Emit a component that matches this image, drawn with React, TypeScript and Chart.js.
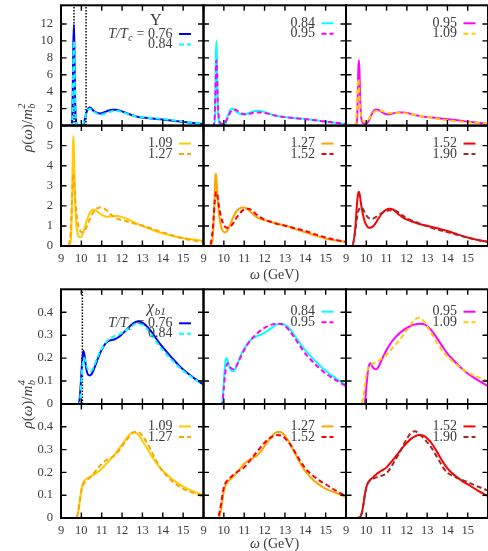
import React, { useEffect, useRef } from 'react';
import { Chart, registerables } from 'chart.js';

Chart.register(...registerables);

const PAGE_W = 488;
const PAGE_H = 551;
const SERIF = '"Liberation Serif", "Times New Roman", serif';
const TEXT = '#3c3c3c';
const Y_BOX = 40;
const X_BOX = 26;
const TICK = 5.5;

// ---------- data ----------
const xTicks = [9, 10, 11, 12, 13, 14, 15];
const upsTopTicks = [0, 2, 4, 6, 8, 10, 12];
const upsBottomTicks = [0, 1, 2, 3, 4, 5];
const chiTicks = [0, 0.1, 0.2, 0.3, 0.4];
const upsMarkers = [9.64, 10.23];
const chiMarkers = [10.05];

const tempLabels = ['0.76', '0.84', '0.95', '1.09', '1.27', '1.52', '1.90'];
const tempColors = ['#0000f0', '#00ffff', '#ff00ff', '#ffcc00', '#ffa500', '#ff0000', '#a52a2a'];

const omegaUps = [9.0, 9.3, 9.45, 9.5, 9.55, 9.58, 9.61, 9.64, 9.67, 9.7, 9.75, 9.8, 9.85, 9.9, 9.95, 10.0, 10.05, 10.1, 10.15, 10.2, 10.3, 10.4, 10.5, 10.6, 10.7, 10.8, 10.9, 11.0, 11.1, 11.2, 11.3, 11.4, 11.5, 11.6, 11.7, 11.8, 11.9, 12.0, 12.25, 12.5, 12.75, 13.0, 13.5, 14.0, 14.5, 15.0, 15.5, 16.0];

const ups076 = [0, 0, 0, 0, 0.8, 4.5, 10, 11.9, 7, 2.5, 0.3, 0.02, 0, 0, 0, 0, 0, 0.1, 0.5, 1.1, 1.85, 2.15, 2.0, 1.75, 1.58, 1.48, 1.44, 1.46, 1.55, 1.65, 1.75, 1.82, 1.86, 1.87, 1.86, 1.82, 1.76, 1.68, 1.45, 1.22, 1.05, 0.95, 0.83, 0.72, 0.58, 0.45, 0.32, 0.18];
const ups084 = [0, 0, 0, 0, 0.6, 3.5, 8.5, 10.0, 6.5, 2.5, 0.5, 0.1, 0.04, 0.03, 0.03, 0.05, 0.1, 0.3, 0.7, 1.15, 1.8, 2.0, 1.9, 1.68, 1.5, 1.38, 1.31, 1.3, 1.36, 1.46, 1.56, 1.64, 1.7, 1.74, 1.75, 1.73, 1.68, 1.6, 1.4, 1.2, 1.07, 1.0, 0.88, 0.78, 0.63, 0.47, 0.33, 0.18];
const ups095 = [0, 0, 0, 0.1, 1.0, 3.5, 6.8, 7.7, 5.8, 3.0, 1.0, 0.45, 0.28, 0.2, 0.18, 0.2, 0.3, 0.5, 0.75, 1.0, 1.5, 1.8, 1.9, 1.85, 1.7, 1.55, 1.42, 1.35, 1.33, 1.36, 1.42, 1.48, 1.52, 1.55, 1.56, 1.56, 1.53, 1.49, 1.35, 1.2, 1.08, 1.0, 0.88, 0.76, 0.62, 0.47, 0.34, 0.2];
const ups109 = [0, 0, 0.1, 0.6, 2.5, 4.8, 5.5, 4.6, 3.0, 2.0, 1.1, 0.7, 0.52, 0.45, 0.43, 0.45, 0.55, 0.7, 0.88, 1.05, 1.38, 1.62, 1.77, 1.82, 1.78, 1.7, 1.62, 1.55, 1.5, 1.47, 1.46, 1.47, 1.48, 1.49, 1.49, 1.49, 1.47, 1.44, 1.35, 1.23, 1.1, 1.0, 0.8, 0.63, 0.5, 0.4, 0.32, 0.26];
const ups127 = [0, 0, 0.4, 1.2, 2.6, 3.4, 3.6, 3.3, 2.8, 2.3, 1.7, 1.3, 1.02, 0.85, 0.75, 0.7, 0.68, 0.69, 0.74, 0.82, 1.05, 1.3, 1.52, 1.7, 1.82, 1.89, 1.92, 1.92, 1.88, 1.8, 1.72, 1.62, 1.53, 1.45, 1.39, 1.35, 1.31, 1.29, 1.22, 1.15, 1.08, 1.02, 0.85, 0.68, 0.52, 0.37, 0.28, 0.2];
const ups152 = [0, 0, 0.8, 1.5, 2.2, 2.5, 2.65, 2.7, 2.6, 2.4, 2.05, 1.75, 1.5, 1.3, 1.15, 1.05, 0.97, 0.93, 0.91, 0.91, 0.95, 1.05, 1.2, 1.37, 1.52, 1.65, 1.75, 1.82, 1.86, 1.86, 1.82, 1.75, 1.66, 1.57, 1.5, 1.43, 1.37, 1.32, 1.22, 1.13, 1.06, 1.01, 0.88, 0.75, 0.58, 0.42, 0.3, 0.21];
const ups190 = [0, 0, 0.7, 1.1, 1.45, 1.62, 1.75, 1.83, 1.88, 1.91, 1.92, 1.9, 1.82, 1.72, 1.62, 1.53, 1.46, 1.41, 1.38, 1.36, 1.36, 1.4, 1.46, 1.53, 1.6, 1.66, 1.71, 1.75, 1.77, 1.78, 1.78, 1.77, 1.73, 1.67, 1.6, 1.52, 1.44, 1.38, 1.27, 1.17, 1.07, 0.98, 0.82, 0.69, 0.55, 0.42, 0.3, 0.2];

const omegaChi = [9.0, 9.5, 9.7, 9.8, 9.85, 9.9, 9.95, 10.0, 10.05, 10.1, 10.15, 10.2, 10.25, 10.3, 10.4, 10.5, 10.6, 10.7, 10.8, 10.9, 11.0, 11.2, 11.4, 11.6, 11.8, 12.0, 12.2, 12.4, 12.6, 12.8, 13.0, 13.2, 13.4, 13.6, 13.8, 14.0, 14.25, 14.5, 14.75, 15.0, 15.5, 16.0];

const chi076 = [0, 0, 0, 0, 0, 0.01, 0.06, 0.13, 0.2, 0.232, 0.215, 0.18, 0.15, 0.132, 0.124, 0.13, 0.148, 0.17, 0.195, 0.218, 0.237, 0.265, 0.277, 0.281, 0.29, 0.305, 0.322, 0.34, 0.355, 0.36, 0.355, 0.34, 0.32, 0.295, 0.27, 0.248, 0.222, 0.196, 0.172, 0.15, 0.115, 0.084];
const chi084 = [0, 0, 0, 0, 0, 0, 0.03, 0.1, 0.16, 0.195, 0.2, 0.185, 0.168, 0.155, 0.143, 0.145, 0.16, 0.182, 0.205, 0.225, 0.24, 0.268, 0.285, 0.295, 0.302, 0.31, 0.322, 0.335, 0.347, 0.35, 0.345, 0.33, 0.308, 0.282, 0.257, 0.235, 0.21, 0.187, 0.165, 0.145, 0.112, 0.083];
const chi095 = [0, 0, 0, 0, 0, 0, 0.02, 0.07, 0.12, 0.155, 0.172, 0.178, 0.172, 0.163, 0.153, 0.152, 0.162, 0.18, 0.2, 0.218, 0.235, 0.265, 0.287, 0.305, 0.32, 0.332, 0.341, 0.347, 0.35, 0.349, 0.34, 0.322, 0.298, 0.272, 0.245, 0.22, 0.195, 0.172, 0.152, 0.133, 0.104, 0.078];
const chi109 = [0, 0, 0, 0.01, 0.03, 0.06, 0.095, 0.125, 0.145, 0.157, 0.164, 0.168, 0.171, 0.174, 0.179, 0.184, 0.189, 0.195, 0.201, 0.208, 0.216, 0.235, 0.255, 0.275, 0.298, 0.322, 0.347, 0.368, 0.376, 0.365, 0.338, 0.31, 0.28, 0.252, 0.228, 0.207, 0.186, 0.168, 0.152, 0.138, 0.117, 0.1];
const chi127 = [0, 0, 0, 0.01, 0.03, 0.06, 0.09, 0.118, 0.135, 0.147, 0.155, 0.161, 0.165, 0.168, 0.176, 0.185, 0.195, 0.206, 0.217, 0.228, 0.238, 0.252, 0.262, 0.272, 0.29, 0.315, 0.34, 0.362, 0.377, 0.377, 0.36, 0.333, 0.3, 0.265, 0.232, 0.205, 0.18, 0.158, 0.142, 0.128, 0.11, 0.092];
const chi152 = [0, 0, 0.005, 0.03, 0.055, 0.085, 0.112, 0.135, 0.148, 0.157, 0.163, 0.168, 0.172, 0.176, 0.184, 0.192, 0.199, 0.205, 0.21, 0.215, 0.222, 0.243, 0.265, 0.287, 0.31, 0.33, 0.347, 0.358, 0.364, 0.362, 0.35, 0.33, 0.303, 0.272, 0.243, 0.218, 0.195, 0.177, 0.161, 0.148, 0.12, 0.095];
const chi190 = [0, 0, 0.005, 0.03, 0.055, 0.085, 0.112, 0.133, 0.147, 0.156, 0.162, 0.166, 0.169, 0.171, 0.175, 0.178, 0.181, 0.184, 0.187, 0.19, 0.196, 0.22, 0.25, 0.28, 0.315, 0.348, 0.372, 0.38, 0.37, 0.352, 0.332, 0.31, 0.28, 0.25, 0.22, 0.198, 0.185, 0.175, 0.166, 0.157, 0.138, 0.12];

const upsSeries = [ups076, ups084, ups095, ups109, ups127, ups152, ups190];
const chiSeries = [chi076, chi084, chi095, chi109, chi127, chi152, chi190];

// ---------- text helpers ----------
type Seg = { t?: string; it?: boolean; sub?: string; sup?: string };

function fontOf(size: number, italic: boolean) {
  return `${italic ? 'italic ' : ''}${size}px ${SERIF}`;
}

function segWidth(ctx: CanvasRenderingContext2D, s: Seg, size: number) {
  if (s.sub !== undefined || s.sup !== undefined) {
    ctx.font = fontOf(size * 0.7, !!s.it);
    const a = s.sub ? ctx.measureText(s.sub).width : 0;
    const b = s.sup ? ctx.measureText(s.sup).width : 0;
    return Math.max(a, b) + 1;
  }
  ctx.font = fontOf(size, !!s.it);
  return ctx.measureText(s.t || '').width;
}

function drawRich(ctx: CanvasRenderingContext2D, segs: Seg[], x: number, y: number, size: number, align: 'left' | 'center' | 'right') {
  const widths = segs.map((s) => segWidth(ctx, s, size));
  const total = widths.reduce((a, b) => a + b, 0);
  let cx = align === 'left' ? x : align === 'right' ? x - total : x - total / 2;
  ctx.fillStyle = TEXT;
  ctx.textBaseline = 'middle';
  ctx.textAlign = 'left';
  segs.forEach((s, i) => {
    if (s.sub !== undefined || s.sup !== undefined) {
      ctx.font = fontOf(size * 0.7, !!s.it);
      if (s.sub) ctx.fillText(s.sub, cx + 0.5, y + size * 0.3);
      if (s.sup) ctx.fillText(s.sup, cx + 0.5, y - size * 0.4);
    } else {
      ctx.font = fontOf(size, !!s.it);
      ctx.fillText(s.t || '', cx, y);
    }
    cx += widths[i];
  });
}

// ---------- panel specs ----------
const COLS = [61, 203.5, 346, 488];

interface Group {
  xs: number[];
  series: number[][];
  rows: number[][];
  ymax: number[];
  yticks: number[][];
  markers: number[];
  legendOffset: number;
  firstLegendOffset: number;
  header: Seg[];
  headerPos: number[];
  yTitle: Seg[];
  yTitlePos: number[];
  xTitleY: number;
}

interface PanelSpec {
  key: string;
  L: number; T: number; R: number; B: number;
  xs: number[];
  solid: number[]; dashed: number[];
  cSolid: string; cDashed: string;
  lSolid: Seg[]; lDashed: Seg[];
  ymax: number; yticks: number[];
  showY: boolean; showX: boolean;
  markers: number[];
  legendY: number;
  group: Group;
  first: boolean;
}

const upsGroup: Group = {
  xs: omegaUps,
  series: upsSeries,
  rows: [[5.3, 125.6], [125.6, 246]],
  ymax: [14.2, 6],
  yticks: [upsTopTicks, upsBottomTicks],
  markers: upsMarkers,
  legendOffset: 18,
  firstLegendOffset: 28.7,
  header: [{ t: 'Υ' }],
  headerPos: [155.8, 20.5],
  yTitle: [{ t: 'ρ', it: true }, { t: '(' }, { t: 'ω', it: true }, { t: ')/' }, { t: 'm', it: true }, { sub: 'b', sup: '2', it: true }],
  yTitlePos: [28, 127.5],
  xTitleY: 275,
};

const chiGroup: Group = {
  xs: omegaChi,
  series: chiSeries,
  rows: [[289.3, 404], [404, 518]],
  ymax: [0.5, 0.5],
  yticks: [chiTicks, chiTicks],
  markers: chiMarkers,
  legendOffset: 22.4,
  firstLegendOffset: 34,
  header: [{ t: 'χ', it: true }, { sub: 'b1', it: true }],
  headerPos: [156.7, 307.5],
  yTitle: [{ t: 'ρ', it: true }, { t: '(' }, { t: 'ω', it: true }, { t: ')/' }, { t: 'm', it: true }, { sub: 'b', sup: '4', it: true }],
  yTitlePos: [28, 404],
  xTitleY: 544,
};

function buildPanels(name: string, g: Group): PanelSpec[] {
  const out: PanelSpec[] = [];
  for (let k = 0; k < 6; k++) {
    const col = k % 3;
    const row = Math.floor(k / 3);
    const lSolid: Seg[] = k === 0
      ? [{ t: 'T/T', it: true }, { sub: 'c', it: true }, { t: ' = ' + tempLabels[k] }]
      : [{ t: tempLabels[k] }];
    out.push({
      key: name + k,
      L: COLS[col], R: COLS[col + 1], T: g.rows[row][0], B: g.rows[row][1],
      xs: g.xs,
      solid: g.series[k], dashed: g.series[k + 1],
      cSolid: tempColors[k], cDashed: tempColors[k + 1],
      lSolid, lDashed: [{ t: tempLabels[k + 1] }],
      ymax: g.ymax[row], yticks: g.yticks[row],
      showY: col === 0, showX: row === 1,
      markers: k === 0 ? g.markers : [],
      legendY: g.rows[row][0] + (k === 0 ? g.firstLegendOffset : g.legendOffset),
      group: g,
      first: k === 0,
    });
  }
  return out;
}

const panels: PanelSpec[] = [...buildPanels('ups', upsGroup), ...buildPanels('chi', chiGroup)];

function framePlugin(spec: PanelSpec) {
  return {
    id: 'frame_' + spec.key,
    afterDraw(chart: any) {
      const ctx: CanvasRenderingContext2D = chart.ctx;
      const xs = chart.scales.x;
      const ys = chart.scales.y;
      const { left, right, top, bottom } = chart.chartArea;
      ctx.save();
      ctx.setLineDash([]);
      ctx.strokeStyle = '#000';
      ctx.lineWidth = 1.4;
      ctx.beginPath();
      xTicks.forEach((v) => {
        const px = xs.getPixelForValue(v);
        ctx.moveTo(px, bottom);
        ctx.lineTo(px, bottom - TICK);
        ctx.moveTo(px, top);
        ctx.lineTo(px, top + TICK);
      });
      spec.yticks.forEach((v) => {
        const py = ys.getPixelForValue(v);
        ctx.moveTo(left, py);
        ctx.lineTo(left + TICK, py);
        ctx.moveTo(right, py);
        ctx.lineTo(right - TICK, py);
      });
      ctx.stroke();
      ctx.lineWidth = 2;
      ctx.strokeRect(left, top, right - left, bottom - top);

      // legend
      const rows = [
        { segs: spec.lSolid, color: spec.cSolid, dash: [] as number[] },
        { segs: spec.lDashed, color: spec.cDashed, dash: [5, 3] },
      ];
      rows.forEach((r, i) => {
        const y = spec.legendY + i * 10.5;
        drawRich(ctx, r.segs, right - 31, y, 14, 'right');
        ctx.strokeStyle = r.color;
        ctx.lineWidth = 2;
        ctx.setLineDash(r.dash);
        ctx.beginPath();
        ctx.moveTo(right - 24.5, y);
        ctx.lineTo(right - 12.5, y);
        ctx.stroke();
      });
      ctx.setLineDash([]);

      if (spec.first) {
        const g = spec.group;
        drawRich(ctx, g.header, g.headerPos[0], g.headerPos[1], 16, 'center');
        ctx.save();
        ctx.translate(g.yTitlePos[0], g.yTitlePos[1]);
        ctx.rotate(-Math.PI / 2);
        drawRich(ctx, g.yTitle, 0, 0, 15, 'center');
        ctx.restore();
        drawRich(ctx, [{ t: 'ω', it: true }, { t: ' (GeV)' }], 274.5, g.xTitleY, 14, 'center');
      }
      ctx.restore();
    },
  };
}

function makeConfig(spec: PanelSpec): any {
  const datasets: any[] = [
    {
      data: spec.xs.map((x, i) => ({ x, y: spec.dashed[i] })),
      borderColor: spec.cDashed,
      borderWidth: 2,
      borderDash: [5, 3],
      pointRadius: 0,
      fill: false,
      cubicInterpolationMode: 'monotone',
    },
    {
      data: spec.xs.map((x, i) => ({ x, y: spec.solid[i] })),
      borderColor: spec.cSolid,
      borderWidth: 2,
      pointRadius: 0,
      fill: false,
      cubicInterpolationMode: 'monotone',
    },
    ...spec.markers.map((m) => ({
      data: [{ x: m, y: 0 }, { x: m, y: spec.ymax }],
      borderColor: '#000',
      borderWidth: 1.5,
      borderDash: [1.5, 1.5],
      pointRadius: 0,
      fill: false,
    })),
  ];
  const tickFont = { family: SERIF, size: 12.5 };
  return {
    type: 'line',
    data: { datasets },
    options: {
      animation: false,
      responsive: false,
      maintainAspectRatio: false,
      events: [],
      layout: {
        padding: {
          left: spec.L - Y_BOX,
          top: spec.T,
          right: Math.max(0, PAGE_W - spec.R),
          bottom: PAGE_H - spec.B - X_BOX,
        },
      },
      plugins: { legend: { display: false }, tooltip: { enabled: false } },
      scales: {
        x: {
          type: 'linear',
          min: 9,
          max: 16,
          afterBuildTicks: (s: any) => { s.ticks = xTicks.map((v) => ({ value: v })); },
          afterFit: (s: any) => {
            s.height = X_BOX;
            s.paddingLeft = 0; s.paddingRight = 0; s.paddingTop = 0; s.paddingBottom = 0;
          },
          grid: { display: false, drawTicks: false },
          border: { display: false },
          ticks: {
            display: spec.showX,
            autoSkip: false,
            maxRotation: 0,
            padding: 5,
            color: TEXT,
            font: tickFont,
            callback: (v: number) => String(v),
          },
        },
        y: {
          type: 'linear',
          min: 0,
          max: spec.ymax,
          afterBuildTicks: (s: any) => { s.ticks = spec.yticks.map((v) => ({ value: v })); },
          afterFit: (s: any) => {
            s.width = Y_BOX;
            s.paddingLeft = 0; s.paddingRight = 0; s.paddingTop = 0; s.paddingBottom = 0;
          },
          grid: { display: false, drawTicks: false },
          border: { display: false },
          ticks: {
            display: spec.showY,
            autoSkip: false,
            padding: 8,
            color: TEXT,
            font: tickFont,
            callback: (v: number) => String(v),
          },
        },
      },
    },
    plugins: [framePlugin(spec)],
  };
}

function Panel({ spec }: { spec: PanelSpec }) {
  const ref = useRef<HTMLCanvasElement>(null);
  useEffect(() => {
    if (!ref.current) return;
    const chart = new Chart(ref.current, makeConfig(spec));
    return () => chart.destroy();
  }, [spec]);
  return (
    <canvas
      ref={ref}
      width={PAGE_W}
      height={PAGE_H}
      style={{ position: 'absolute', left: 0, top: 0, width: PAGE_W, height: PAGE_H, pointerEvents: 'none' }}
    />
  );
}

export default function App() {
  return (
    <div style={{ position: 'fixed', left: 0, top: 0, width: PAGE_W, height: PAGE_H, background: '#fff', overflow: 'hidden' }}>
      {panels.map((p) => (
        <Panel key={p.key} spec={p} />
      ))}
    </div>
  );
}
